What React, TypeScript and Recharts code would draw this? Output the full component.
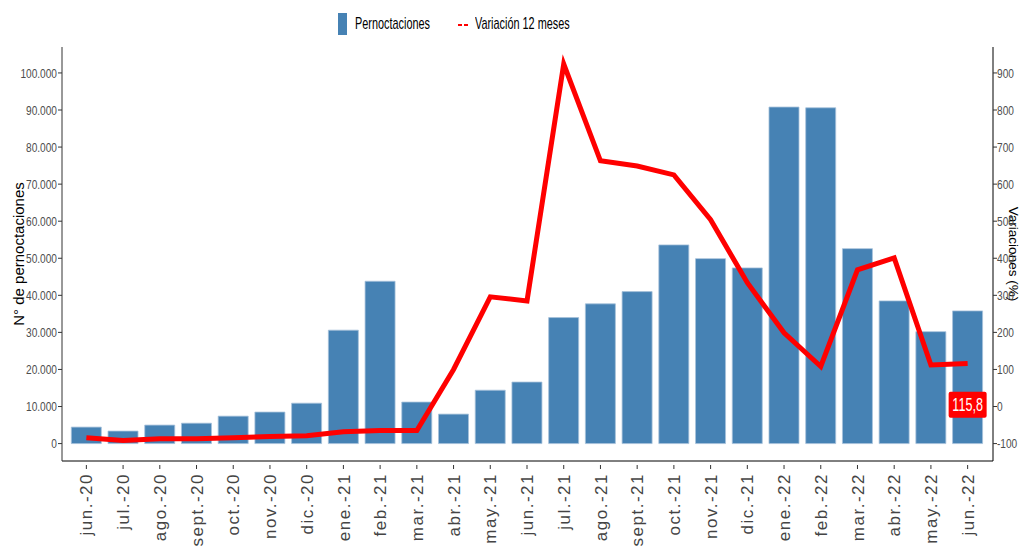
import { ComposedChart, Bar, Line, XAxis, YAxis, ReferenceDot } from 'recharts'

const months = [
  'jun.-20', 'jul.-20', 'ago.-20', 'sept.-20', 'oct.-20', 'nov.-20', 'dic.-20',
  'ene.-21', 'feb.-21', 'mar.-21', 'abr.-21', 'may.-21', 'jun.-21', 'jul.-21',
  'ago.-21', 'sept.-21', 'oct.-21', 'nov.-21', 'dic.-21', 'ene.-22', 'feb.-22',
  'mar.-22', 'abr.-22', 'may.-22', 'jun.-22',
]

// pernoctaciones por mes
const pernoctaciones = [
  4450, 3370, 4990, 5500, 7400, 8500, 10900,
  30600, 43800, 11200, 7950, 14400, 16600, 34000,
  37700, 41000, 53600, 49900, 47400, 90800, 90600,
  52600, 38500, 30200, 35800,
]

// variación interanual (%)
const variacion = [
  -84, -92, -87, -87, -84, -81, -79,
  -68, -65, -65, 100, 296, 285, 924,
  663, 649, 625, 504, 334, 199, 108,
  369, 401, 112, 115.8,
]

const leftTicks = [0, 10000, 20000, 30000, 40000, 50000, 60000, 70000, 80000, 90000, 100000]
const rightTicks = [-100, 0, 100, 200, 300, 400, 500, 600, 700, 800, 900]
const lastLabel = '115,8'
const lastLabelPos = 5

const SANS = '"Liberation Sans", Arial, sans-serif'
const SQUEEZE = 0.75

const data = months.map((m, i) => ({
  month: m,
  pernoctaciones: pernoctaciones[i],
  variacion: variacion[i],
}))

const fmtThousands = (v: number) => String(v).replace(/\B(?=(\d{3})+(?!\d))/g, '.')

function MonthTick({ x, y, payload }: any) {
  return (
    <g>
      <line x1={x} x2={x} y1={y - 4} y2={y} stroke="#333" />
      <text
        x={x}
        y={y + 4}
        transform={`rotate(-90, ${x}, ${y + 4})`}
        textAnchor="end"
        dy="0.36em"
        fill="#444"
        fontSize={17}
        fontFamily={SANS}
        letterSpacing={1.5}
      >
        {payload.value}
      </text>
    </g>
  )
}

function LeftTick({ x, y, payload }: any) {
  return (
    <text
      transform={`translate(${x}, ${y}) scale(${SQUEEZE}, 1)`}
      textAnchor="end"
      dy="0.36em"
      fill="#4d4d4d"
      fontSize={13.5}
      fontFamily={SANS}
    >
      {fmtThousands(payload.value)}
    </text>
  )
}

function RightTick({ x, y, payload }: any) {
  return (
    <text
      transform={`translate(${x}, ${y}) scale(${SQUEEZE}, 1)`}
      textAnchor="start"
      dy="0.36em"
      fill="#4d4d4d"
      fontSize={13.5}
      fontFamily={SANS}
    >
      {payload.value}
    </text>
  )
}

function LeftTitle({ viewBox }: any) {
  const cy = viewBox.y + viewBox.height / 2
  return (
    <text
      transform={`translate(24, ${cy}) rotate(-90)`}
      textAnchor="middle"
      fill="#000"
      fontSize={15}
      fontFamily={SANS}
    >
      N° de pernoctaciones
    </text>
  )
}

function RightTitle({ viewBox }: any) {
  const cy = viewBox.y + viewBox.height / 2
  return (
    <text
      transform={`translate(1009, ${cy}) rotate(90)`}
      textAnchor="middle"
      fill="#000"
      fontSize={13.5}
      fontFamily={SANS}
    >
      Variaciones (%)
    </text>
  )
}

function LastLabel({ cx, cy }: any) {
  return (
    <g>
      <rect x={cx - 19} y={cy - 13} width={38} height={26} rx={2} fill="#ff0000" />
      <text
        transform={`translate(${cx}, ${cy}) scale(0.7, 1)`}
        dy="0.36em"
        textAnchor="middle"
        fill="#fff"
        fontSize={18}
        fontFamily={SANS}
      >
        {lastLabel}
      </text>
    </g>
  )
}

const legendText: any = {
  position: 'absolute', top: 13, fontFamily: SANS, fontSize: 17, lineHeight: '22px',
  color: '#000', transform: 'scaleX(0.64)', transformOrigin: 'left center', whiteSpace: 'nowrap',
}

export default function App() {
  return (
    <div style={{ position: 'relative', width: 1021, height: 548, overflow: 'hidden' }}>
      <style>{'body{margin:0}'}</style>
      <span style={{ position: 'absolute', left: 338, top: 13, width: 9, height: 22, background: '#4682B4' }} />
      <span style={{ ...legendText, left: 355 }}>Pernoctaciones</span>
      <span style={{ position: 'absolute', left: 458, top: 24, width: 4, height: 2, background: '#ff0000' }} />
      <span style={{ position: 'absolute', left: 464, top: 24, width: 4, height: 2, background: '#ff0000' }} />
      <span style={{ ...legendText, left: 475 }}>Variación 12 meses</span>
      <ComposedChart
        width={1021}
        height={548}
        data={data}
        margin={{ top: 47, right: 0, bottom: 0, left: 0 }}
        barCategoryGap="9%"
      >
        <XAxis
          dataKey="month"
          xAxisId="x"
          interval={0}
          height={87}
          padding={{ left: 6, right: 7 }}
          axisLine={{ stroke: '#000' }}
          tickLine={false}
          tick={<MonthTick />}
        />
        <YAxis
          yAxisId="left"
          width={62}
          domain={[-4700, 107000]}
          ticks={leftTicks}
          interval={0}
          axisLine={{ stroke: '#333' }}
          tickLine={{ stroke: '#333' }}
          tickSize={4}
          tickMargin={1}
          tick={<LeftTick />}
          label={<LeftTitle />}
        />
        <YAxis
          yAxisId="right"
          orientation="right"
          width={28}
          domain={[-147, 970]}
          ticks={rightTicks}
          interval={0}
          axisLine={{ stroke: '#000' }}
          tickLine={{ stroke: '#333' }}
          tickSize={4}
          tickMargin={0}
          tick={<RightTick />}
          label={<RightTitle />}
        />
        <Bar
          dataKey="pernoctaciones"
          xAxisId="x"
          yAxisId="left"
          fill="#4682B4"
          stroke="#a7c2da"
          strokeWidth={0.8}
          isAnimationActive={false}
        />
        <Line
          dataKey="variacion"
          xAxisId="x"
          yAxisId="right"
          type="linear"
          stroke="#ff0000"
          strokeWidth={5}
          dot={false}
          activeDot={false}
          isAnimationActive={false}
        />
        <ReferenceDot
          x={months[months.length - 1]}
          y={lastLabelPos}
          xAxisId="x"
          yAxisId="right"
          shape={<LastLabel />}
        />
      </ComposedChart>
    </div>
  )
}
